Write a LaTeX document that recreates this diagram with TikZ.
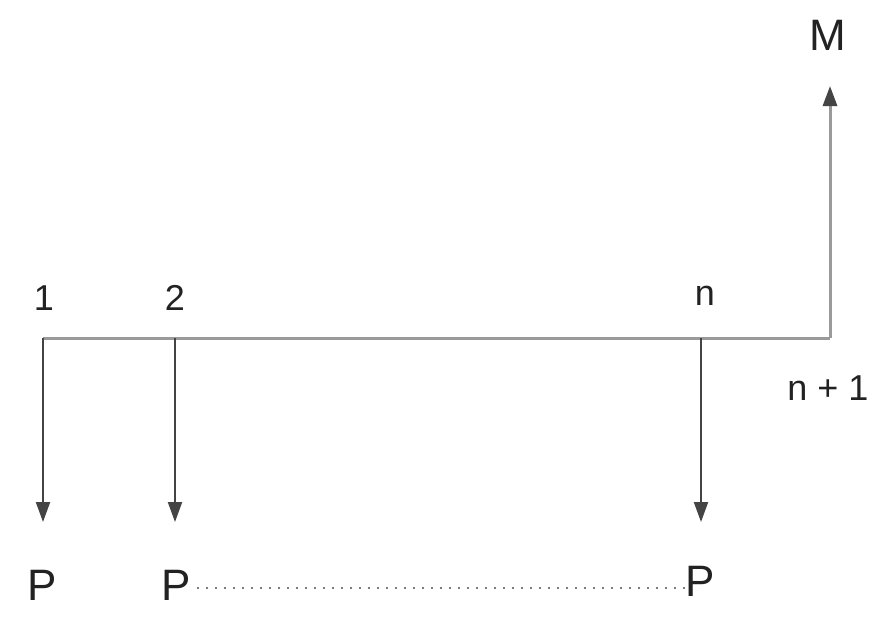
\documentclass[tikz,border=0pt]{standalone}
\usepackage{fontspec}
\setmainfont{Liberation Sans}
\usetikzlibrary{arrows.meta}
\definecolor{axisgray}{HTML}{9A9A9A}
\definecolor{arrowgray}{HTML}{444444}
\definecolor{textgray}{HTML}{222222}
\begin{document}
\begin{tikzpicture}[x=1pt,y=-1pt,
  lbl/.style={inner sep=0pt,text=textgray,font=\fontsize{36}{40}\selectfont},
  big/.style={inner sep=0pt,text=textgray,font=\fontsize{44}{50}\selectfont},
  tip/.style={-{Triangle[length=20pt,width=14pt,color=arrowgray]}},
  flow/.style={draw=arrowgray,line width=2pt,tip},
  axis/.style={draw=axisgray,line width=3pt}]
\useasboundingbox[fill=white] (0,0) rectangle (875,635);
\coordinate (c1) at (43,338);
\coordinate (c2) at (175,338);
\coordinate (cn) at (701,338);
\coordinate (cend) at (830,338);
\coordinate (e1) at (43,522);
\coordinate (e2) at (175,522);
\coordinate (en) at (701,522);
\coordinate (eM) at (830,86);
\draw[axis] (c1) -- (cend);
\draw[axis,tip] (cend) -- (eM);
\draw[flow] (c1) -- (e1);
\draw[flow] (c2) -- (e2);
\draw[flow] (cn) -- (en);
\node[lbl] (l1) at (44,298) {1};
\node[lbl] (l2) at (175,298) {2};
\node[lbl] (ln) at (705,296) {n};
\node[lbl] (ln1) at (828,388) {n + 1};
\node[big] (M) at (828,35) {M};
\node[big] (p1) at (42,585) {P};
\node[big] (p2) at (176,585) {P};
\node[big] (pn) at (700,581) {P};
\coordinate (d0) at ([xshift=6pt,yshift=-3pt]p2.east);
\draw[draw=arrowgray!70,line width=2.5pt,dash pattern=on 2.5pt off 6.5pt] (d0) -- (d0 -| pn.west);
\end{tikzpicture}
\end{document}
